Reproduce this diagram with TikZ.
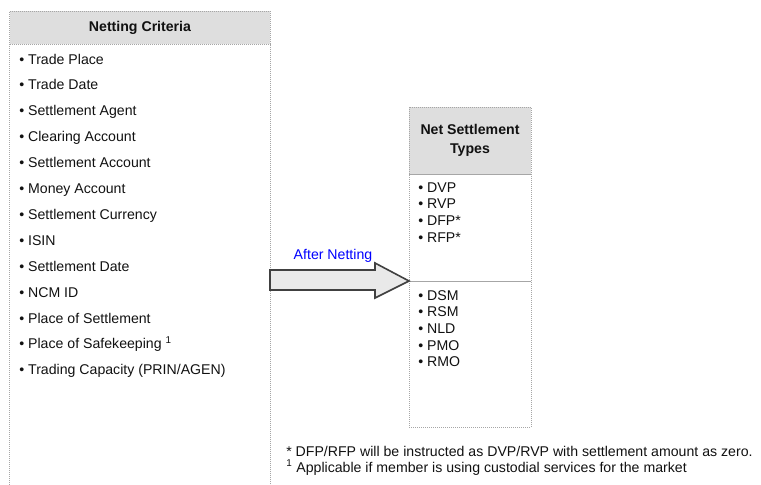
\documentclass[tikz,border=0pt]{standalone}
\usepackage{fontspec}
\setmainfont{Liberation Sans}
\usepackage{xcolor}
\newcommand{\critL}{9.5}
\newcommand{\critR}{270}
\newcommand{\typeL}{409}
\newcommand{\typeR}{531}
\newcommand{\rowgap}{25.9}
\newcommand{\typegap}{16.7}
\definecolor{headcolor}{HTML}{DEDEDE}
\definecolor{edgecolor}{HTML}{A6A6A6}
\definecolor{arrowcolor}{HTML}{E9E9E9}
\definecolor{arrowedge}{HTML}{404040}
\definecolor{textcolor}{HTML}{111111}
\tikzset{
  critem/.style={anchor=west, inner sep=0pt, text height=7.8pt, text depth=0.2pt, text=textcolor, font=\fontsize{10.6}{12}\selectfont},
  headtext/.style={align=center, inner sep=0pt, text=textcolor, font=\fontsize{10.6}{14.3}\selectfont\bfseries},
  boxedge/.style={edgecolor, densely dotted, line width=0.5pt}
}

\begin{document}
\begin{tikzpicture}[x=0.75pt, y=-0.75pt, >=stealth]
        \useasboundingbox (0,0) rectangle (761,485);

        \coordinate (critA) at (\critL, 11);
        \coordinate (critB) at (\critR, 11);
        \coordinate (critC) at (\critL, 44);
        \coordinate (critD) at (\critR, 44);
        \coordinate (critE) at (\critL, 485);
        \coordinate (critF) at (\critR, 485);

        \coordinate (typeA) at (\typeL, 107);
        \coordinate (typeB) at (\typeR, 107);
        \coordinate (typeC) at (\typeL, 174);
        \coordinate (typeD) at (\typeR, 174);
        \coordinate (typeE) at (\typeL, 281);
        \coordinate (typeF) at (\typeR, 281);
        \coordinate (typeG) at (\typeL, 427);
        \coordinate (typeH) at (\typeR, 427);

        % color
        \fill[headcolor] (critA) rectangle (critD);
        \fill[headcolor] (typeA) rectangle (typeD);

        % box edges
        \draw[boxedge] (critE) -- (critA) -- (critB) -- (critF);
        \draw[boxedge] (critC) -- (critD);
        \draw[boxedge] (typeA) rectangle (typeH);
        \draw[edgecolor, line width=0.5pt] (typeC) -- (typeD);
        \draw[edgecolor, line width=0.5pt] (typeE) -- (typeF);

        % headers
        \node[headtext] (crithead) at (140, 27.5) {Netting Criteria};
        \node[headtext] (typehead) at (470, 140.5) {Net Settlement\\Types};

        % netting criteria
        \node[critem] (trplace) at (19, 59) {• Trade Place};
        \node[critem] (trdate) at (19, 59+\rowgap) {• Trade Date};
        \node[critem] (stagent) at (19, 59+2*\rowgap) {• Settlement Agent};
        \node[critem] (clacc) at (19, 59+3*\rowgap) {• Clearing Account};
        \node[critem] (stacc) at (19, 59+4*\rowgap) {• Settlement Account};
        \node[critem] (moacc) at (19, 59+5*\rowgap) {• Money Account};
        \node[critem] (stcur) at (19, 59+6*\rowgap) {• Settlement Currency};
        \node[critem] (isin) at (19, 59+7*\rowgap) {• ISIN};
        \node[critem] (stdate) at (19, 59+8*\rowgap) {• Settlement Date};
        \node[critem] (ncmid) at (19, 59+9*\rowgap) {• NCM ID};
        \node[critem] (plset) at (19, 59+10*\rowgap) {• Place of Settlement};
        \node[critem] (plsafe) at (19, 59+11*\rowgap) {• Place of Safekeeping \textsuperscript{1}};
        \node[critem] (trcap) at (19, 59+12*\rowgap) {• Trading Capacity (PRIN/AGEN)};

        % settlement types
        \node[critem] (dvp) at (418, 187) {• DVP};
        \node[critem] (rvp) at (418, 187+\typegap) {• RVP};
        \node[critem] (dfp) at (418, 187+2*\typegap) {• DFP*};
        \node[critem] (rfp) at (418, 187+3*\typegap) {• RFP*};
        \node[critem] (dsm) at (418, 295) {• DSM};
        \node[critem] (rsm) at (418, 295+\typegap) {• RSM};
        \node[critem] (nld) at (418, 295+2*\typegap) {• NLD};
        \node[critem] (pmo) at (418, 295+3*\typegap) {• PMO};
        \node[critem] (rmo) at (418, 295+4*\typegap) {• RMO};

        % block arrow
        \coordinate (arrowO) at (\critR, 270);
        \coordinate (arrowA) at (375, 270);
        \coordinate (arrowB) at (375, 263);
        \coordinate (arrowC) at (\typeL, 281);
        \coordinate (arrowD) at (375, 298);
        \coordinate (arrowE) at (375, 290);
        \coordinate (arrowF) at (\critR, 290);
        \filldraw[fill=arrowcolor, draw=arrowedge, line width=1.2pt, line join=miter]
            (arrowO) -- (arrowA) -- (arrowB) -- (arrowC) -- (arrowD) -- (arrowE) -- (arrowF) -- cycle;
        \node[critem, anchor=center, text=blue] (netlabel) at (333, 254) {After Netting};

        % notes
        \node[critem] (noteA) at (286, 451) {* DFP/RFP will be instructed as DVP/RVP with settlement amount as zero.};
        \node[critem] (noteB) at (286, 467) {\textsuperscript{1} Applicable if member is using custodial services for the market};
    \end{tikzpicture}
\end{document}
